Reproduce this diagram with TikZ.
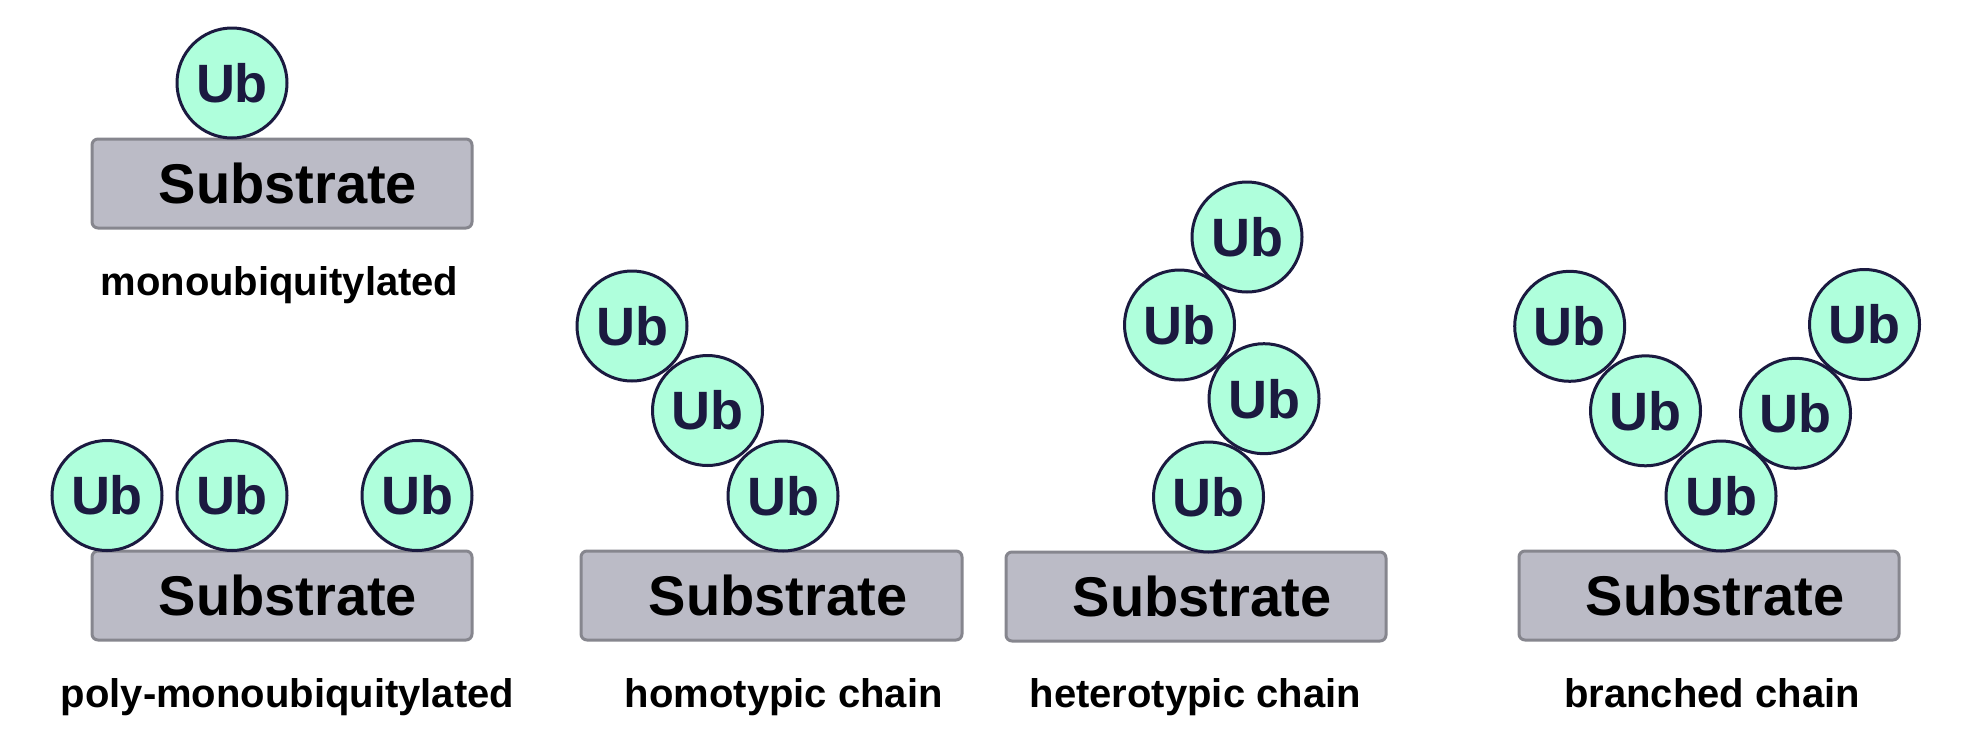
\documentclass[tikz,border=0pt]{standalone}
\usepackage{fontspec}
\setmainfont{Liberation Sans}
\definecolor{ubfill}{HTML}{AFFFDC}
\definecolor{ubline}{HTML}{1B1A40}
\definecolor{subfill}{HTML}{BBBBC6}
\definecolor{subline}{HTML}{86868E}
\tikzset{
  ub/.style={circle, draw=ubline, fill=ubfill, line width=3pt, minimum size=110pt, inner sep=0pt,
    text=ubline, font=\bfseries\fontsize{54}{56}\selectfont},
  subbox/.style={draw=subline, fill=subfill, line width=3pt, rounded corners=6pt},
  subtext/.style={font=\bfseries\fontsize{56}{60}\selectfont, text=black, inner sep=0pt},
  lbl/.style={font=\bfseries\fontsize{40}{44}\selectfont, text=black, inner sep=0pt, anchor=base}
}
\begin{document}
\begin{tikzpicture}[x=1pt, y=-1pt]
\useasboundingbox[fill=white] (0,0) rectangle (1972,737);
% monoubiquitylated
\draw[subbox] (92,139) rectangle (472,228);
\node[subtext] (s1) at (288,183.5) {Substrate};
\node[ub] (m1) at (232,83) {Ub};
\node[lbl] (l1) at (279.5,295) {monoubiquitylated};
% poly-monoubiquitylated
\draw[subbox] (92,551) rectangle (472,640);
\node[subtext] (s2) at (288,595.5) {Substrate};
\node[ub] (p1) at (107,495.5) {Ub};
\node[ub] (p2) at (232,495.5) {Ub};
\node[ub] (p3) at (417,495.5) {Ub};
\node[lbl] (l2) at (287.5,707) {poly-monoubiquitylated};
% homotypic
\draw[subbox] (581,551) rectangle (962,640);
\node[subtext] (s3) at (778,595.5) {Substrate};
\node[ub] (h1) at (632,326) {Ub};
\node[ub] (h2) at (707.5,410.5) {Ub};
\node[ub] (h3) at (783,496) {Ub};
\node[lbl] (l3) at (783.8,707) {homotypic chain};
% heterotypic
\draw[subbox] (1006,552) rectangle (1386,641);
\node[subtext] (s4) at (1202,596.5) {Substrate};
\node[ub] (e1) at (1247,237) {Ub};
\node[ub] (e2) at (1179.5,325) {Ub};
\node[ub] (e3) at (1264,398.7) {Ub};
\node[ub] (e4) at (1208.5,497) {Ub};
\node[lbl] (l4) at (1195.3,707) {heterotypic chain};
% branched
\draw[subbox] (1519,551) rectangle (1899,640);
\node[subtext] (s5) at (1715,595.5) {Substrate};
\node[ub] (b1) at (1569.7,326.3) {Ub};
\node[ub] (b2) at (1645.5,410.8) {Ub};
\node[ub] (b3) at (1721,496) {Ub};
\node[ub] (b4) at (1795.5,413.3) {Ub};
\node[ub] (b5) at (1864.5,324.5) {Ub};
\node[lbl] (l5) at (1712,707) {branched chain};
\end{tikzpicture}
\end{document}
